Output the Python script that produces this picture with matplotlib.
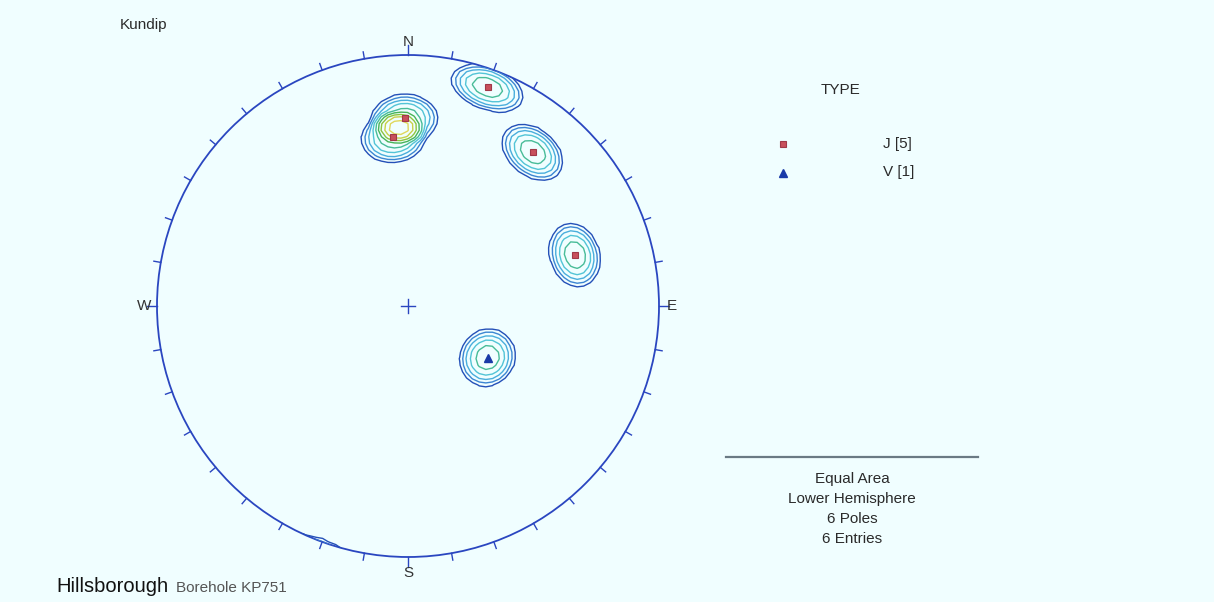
import numpy as np
import matplotlib.pyplot as plt
from matplotlib.patches import Circle

plt.rcParams['font.family'] = ['Liberation Sans', 'DejaVu Sans']

# poles to joints (J) and veins (V): trend, plunge in degrees
j_trend = [20, 359, 355, 39, 73]
j_plunge = [8, 26, 33, 22, 31]
v_trend = [123]
v_plunge = [59]

contour_levels = [1, 2, 3, 4, 5, 6, 7, 8, 9, 10]
contour_colors = ['#2450b8', '#3c86d2', '#4aaedc', '#52c4d6', '#48bc98',
                  '#48b458', '#8cc440', '#c8d048', '#e0d85c', '#ece070']

W, H = 1214, 602
cx, cy, R = 408, 306, 251
bg = '#f0feff'
net_col = '#2a46c0'
txt_col = '#2a2a2a'


def px(x, y):
    return x / W, 1 - y / H


def project(trend, plunge):
    t = np.radians(trend)
    p = np.radians(plunge)
    r = np.sqrt(2) * np.sin((np.pi / 2 - p) / 2)
    return r * np.sin(t), r * np.cos(t)


def vectors(trend, plunge):
    t = np.radians(np.asarray(trend, float))
    p = np.radians(np.asarray(plunge, float))
    return np.stack([np.cos(p) * np.sin(t), np.cos(p) * np.cos(t), np.sin(p)], axis=-1)


fig = plt.figure(figsize=(W / 100, H / 100), dpi=100, facecolor=bg)
ax = fig.add_axes([0, 0, 1, 1])
ax.set_facecolor(bg)
ax.set_xlim(-cx / R, (W - cx) / R)
ax.set_ylim(-(H - cy) / R, cy / R)
ax.axis('off')

# density grid: axial counting cone with parabolic weighting
step = 0.026
g = np.arange(-1.12, 1.12 + step, step)
X, Y = np.meshgrid(g, g)
r = np.clip(np.hypot(X, Y), 0, np.sqrt(2))
theta = 2 * np.arcsin(r / np.sqrt(2))
az = np.arctan2(X, Y)
grid_v = np.stack([np.sin(theta) * np.sin(az), np.sin(theta) * np.cos(az), np.cos(theta)], axis=-1)
poles = vectors(j_trend + v_trend, j_plunge + v_plunge)
cone = 10.0
peak = 5.9
dens = np.zeros_like(X)
for pv in poles:
    ang = np.degrees(np.arccos(np.clip(np.abs(grid_v @ pv), 0, 1)))
    dens += peak * np.clip(1 - (ang / cone) ** 2, 0, None)

prim = Circle((0, 0), 1, transform=ax.transData, facecolor='none', edgecolor='none')
ax.add_patch(prim)
cs = ax.contour(X, Y, dens, levels=contour_levels, colors=contour_colors, linewidths=1.0)
cs.set_clip_path(prim)

# primitive circle and ticks
ax.add_patch(Circle((0, 0), 1, facecolor='none', edgecolor=net_col, lw=1.3))
for a in range(0, 360, 10):
    ar = np.radians(a)
    L = 0.04 if a % 90 == 0 else 0.028
    ax.plot([np.sin(ar), (1 + L) * np.sin(ar)], [np.cos(ar), (1 + L) * np.cos(ar)],
            color=net_col, lw=1.0)
ax.plot([-0.028, 0.028], [0, 0], color=net_col, lw=1.0)
ax.plot([0, 0], [-0.028, 0.028], color=net_col, lw=1.0)

for lab, a, off in [('N', 0, 1.05), ('E', 90, 1.052), ('S', 180, 1.062), ('W', 270, 1.052)]:
    ar = np.radians(a)
    ax.text(off * np.sin(ar), off * np.cos(ar), lab, ha='center', va='center',
            fontsize=11, color='#333333')

# poles
jx, jy = project(np.array(j_trend), np.array(j_plunge))
vx, vy = project(np.array(v_trend), np.array(v_plunge))
ax.plot(jx, jy, 's', ms=5, mfc='#c8505c', mec='#a03848', mew=0.8, zorder=5)
ax.plot(vx, vy, '^', ms=5.5, mfc='#1a3aa8', mec='#1a3aa8', zorder=5)

# legend
fig.text(*px(840, 90), 'TYPE', ha='center', va='center', fontsize=11, color=txt_col)
fig.lines.append(plt.Line2D([783 / W], [1 - 144 / H], marker='s', ms=5, mfc='#c8505c',
                            mec='#a03848', mew=0.8, transform=fig.transFigure))
fig.lines.append(plt.Line2D([783 / W], [1 - 173 / H], marker='^', ms=5.5, mfc='#1a3aa8',
                            mec='#1a3aa8', transform=fig.transFigure))
fig.text(*px(883, 144), 'J [5]', ha='left', va='center', fontsize=11, color=txt_col)
fig.text(*px(883, 172), 'V [1]', ha='left', va='center', fontsize=11, color=txt_col)

# info block
fig.lines.append(plt.Line2D([726 / W, 978 / W], [1 - 457 / H] * 2, color='#6a7a84', lw=1.6,
                            transform=fig.transFigure))
for yy, s in zip([479, 499, 519, 539], ['Equal Area', 'Lower Hemisphere', '6 Poles', '6 Entries']):
    fig.text(*px(852, yy), s, ha='center', va='center', fontsize=11, color=txt_col)

fig.text(*px(120, 25), 'Kundip', ha='left', va='center', fontsize=11, color=txt_col)
fig.text(*px(56, 592), 'Hillsborough', ha='left', va='baseline', fontsize=14.5, color='#111111')
fig.text(*px(176, 592), 'Borehole KP751', ha='left', va='baseline', fontsize=11, color='#555555')

fig.savefig('out.png', dpi=100, facecolor=bg)
